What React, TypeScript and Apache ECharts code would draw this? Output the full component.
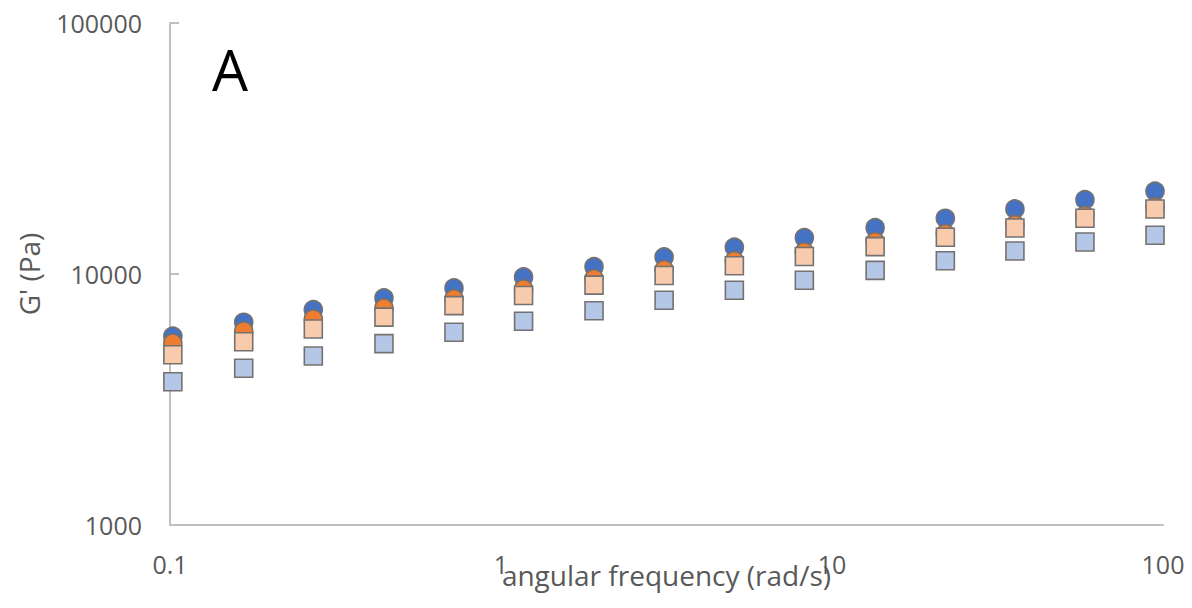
import React, { useEffect, useRef } from "react";
import * as echarts from "echarts";

const freq = [0.102, 0.167, 0.271, 0.443, 0.721, 1.17, 1.91, 3.11, 5.07, 8.25, 13.5, 22.0, 35.7, 58.1, 94.6];
const seriesBlue = [5650, 6420, 7210, 8030, 8800, 9730, 10690, 11690, 12780, 13950, 15290, 16670, 18160, 19770, 21360];
const seriesOrange = [5310, 5930, 6620, 7320, 7970, 8720, 9580, 10400, 11300, 12240, 13450, 14470, 15720, 17070, 18490];
const seriesPeach = [4770, 5370, 6040, 6730, 7480, 8210, 9030, 9860, 10780, 11740, 12850, 14000, 15250, 16670, 18160];
const seriesLightBlue = [3720, 4210, 4710, 5280, 5860, 6480, 7140, 7860, 8610, 9440, 10340, 11300, 12350, 13410, 14260];

const xTitle = "angular frequency (rad/s)";
const yTitle = "G' (Pa)";
const panelLabel = "A";

const FONT = "'Open Sans', sans-serif";
const GREY = "#595959";
const AXIS = "#BFBFBF";
const BORDER = "#767171";

const pairs = (ys: number[]) => freq.map((x, i) => [x, ys[i]]);
const fmt = (v: number) => String(Number(v.toPrecision(6)));

export default function App() {
  const ref = useRef<HTMLDivElement>(null);
  useEffect(() => {
    if (!ref.current) return;
    const chart = echarts.init(ref.current, null, { renderer: "svg" });
    const mk = (data: number[], color: string, symbol: string) => ({
      type: "scatter",
      data: pairs(data),
      symbol,
      symbolSize: 18,
      itemStyle: { color, borderColor: BORDER, borderWidth: 1.6, opacity: 1 },
      emphasis: { disabled: true },
    });
    chart.setOption({
      animation: false,
      grid: {
        left: 170,
        right: 29,
        top: 23,
        bottom: 83,
        containLabel: false,
        outerBoundsMode: "none",
      },
      xAxis: {
        type: "log",
        logBase: 10,
        min: 0.1,
        max: 100,
        name: xTitle,
        nameLocation: "middle",
        nameGap: 36,
        nameMoveOverlap: false,
        nameTextStyle: { fontFamily: FONT, fontSize: 28, color: GREY },
        axisLine: { show: true, lineStyle: { color: AXIS, width: 2 } },
        axisTick: { show: false },
        splitLine: { show: false },
        minorTick: { show: false },
        axisLabel: { fontFamily: FONT, fontSize: 25, color: GREY, margin: 26, formatter: fmt },
      },
      yAxis: {
        type: "log",
        logBase: 10,
        min: 1000,
        max: 100000,
        name: yTitle,
        nameLocation: "middle",
        nameGap: 127,
        nameRotate: 90,
        nameMoveOverlap: false,
        nameTextStyle: { fontFamily: FONT, fontSize: 28, color: GREY },
        axisLine: { show: true, lineStyle: { color: AXIS, width: 2 } },
        axisTick: { show: true, inside: true, length: 9, lineStyle: { color: AXIS, width: 2 } },
        splitLine: { show: false },
        axisLabel: { fontFamily: FONT, fontSize: 25, color: GREY, margin: 28, formatter: fmt },
      },
      graphic: [
        {
          type: "text",
          left: 212,
          top: 40,
          style: { text: panelLabel, fontFamily: FONT, fontSize: 57, fill: "#000000" },
        },
      ],
      series: [
        mk(seriesBlue, "#4472C4", "circle"),
        mk(seriesOrange, "#ED7D31", "circle"),
        mk(seriesPeach, "#F8CBAD", "rect"),
        mk(seriesLightBlue, "#B4C7E7", "rect"),
      ],
    });
    return () => chart.dispose();
  }, []);
  return (
    <div
      ref={ref}
      style={{ position: "absolute", left: 0, top: 0, width: 1192, height: 608, background: "#ffffff" }}
    />
  );
}
